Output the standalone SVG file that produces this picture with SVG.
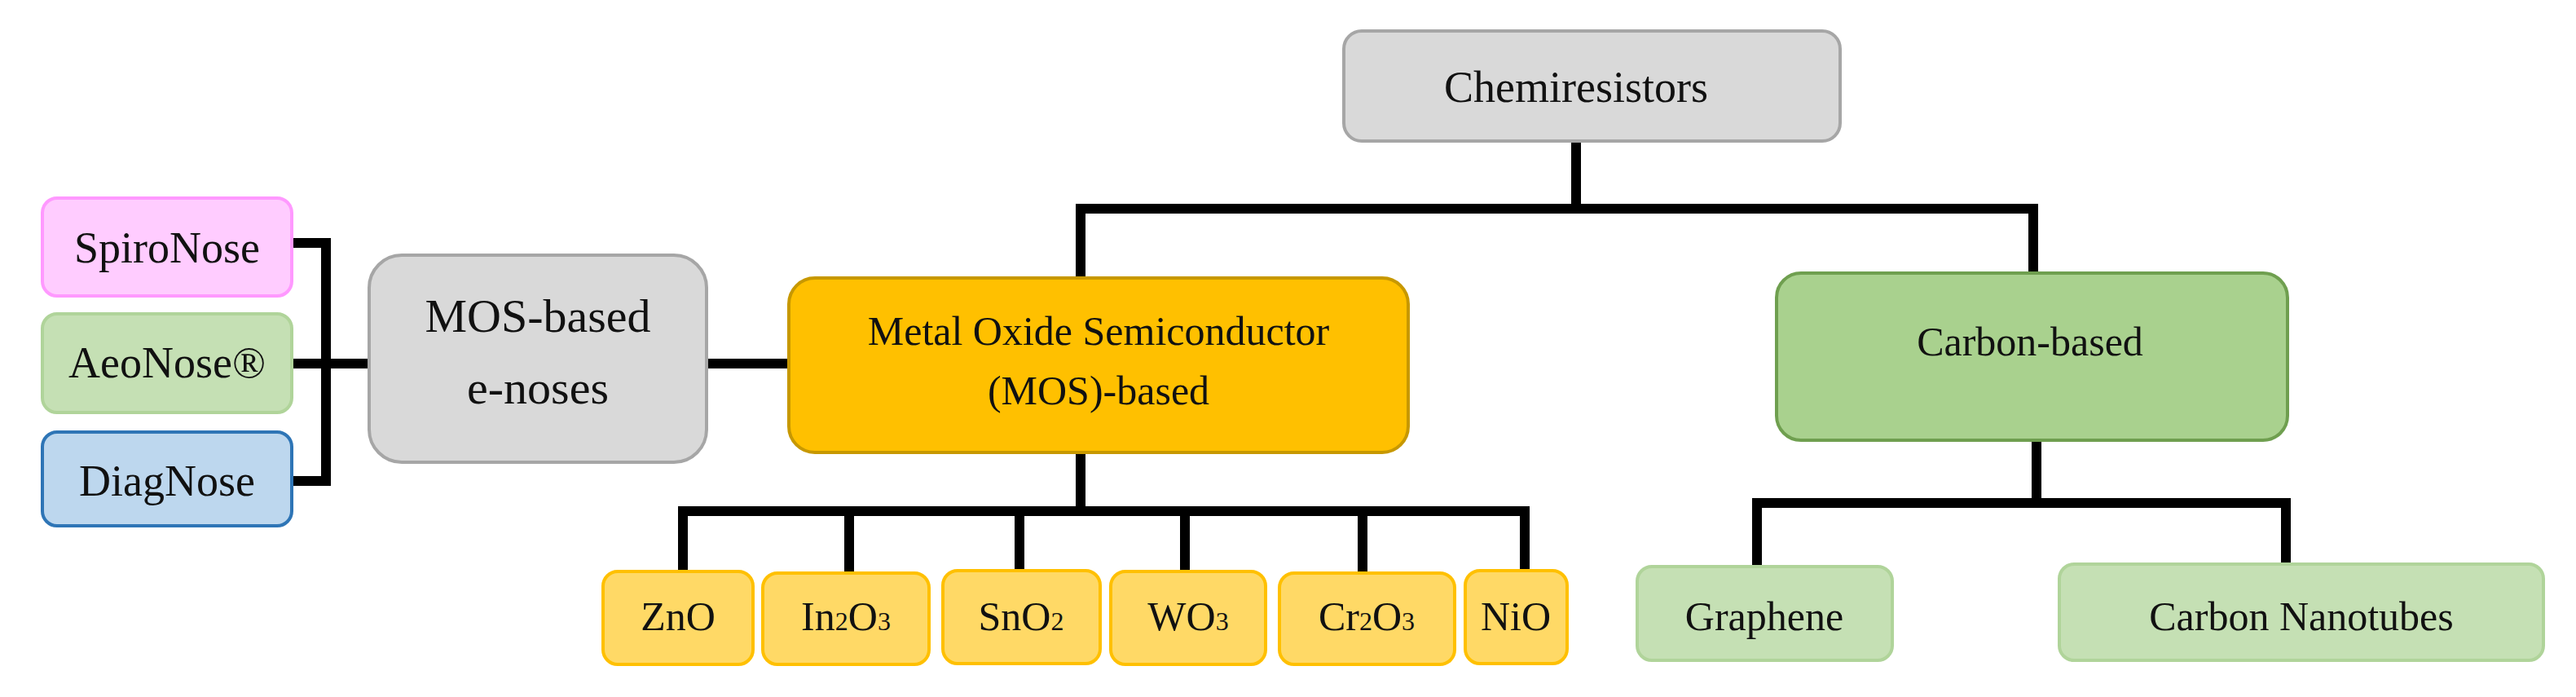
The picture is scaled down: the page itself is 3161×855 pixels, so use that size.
<svg xmlns="http://www.w3.org/2000/svg" width="3161" height="855" viewBox="0 0 3161 855">
<style>
text{font-family:"Liberation Serif","Times New Roman",serif;fill:#111;text-anchor:middle}
.gray{fill:#d9d9d9;stroke:#a6a6a6;stroke-width:4}
.mos{fill:#ffc000;stroke:#c79800;stroke-width:4}
.carb{fill:#a9d18e;stroke:#6f9f4f;stroke-width:4}
.lg{fill:#c5e0b4;stroke:#b0d49a;stroke-width:4}
.ly{fill:#ffd966;stroke:#ffc000;stroke-width:4}
.pink{fill:#ffccff;stroke:#ff99ff;stroke-width:4}
.blue{fill:#bdd7ee;stroke:#2e75b6;stroke-width:4}
.c{fill:none;stroke:#000;stroke-width:12;stroke-linecap:square}
.t52{font-size:54px}.t56{font-size:58px}.t50{font-size:50px}.t48{font-size:50px}
.sub{font-size:32px}
</style>
<g id="connectors">
<path class="c" d="M1934 173V256M1326 256H2495M1326 256V341M2495 256V335"/>
<path class="c" d="M1326 555V627M838 627H1871M838 627V701M1042 627V701M1251 627V701M1454 627V701M1672 627V701M1871 627V701"/>
<path class="c" d="M2499 540V617M2156 617H2805M2156 617V695M2805 617V692"/>
<path class="c" d="M867 446H968"/>
<path class="c" d="M360 298H400V590H360M360 446H453"/>
</g>
<g id="chemiresistors"><rect class="gray" x="1649" y="38" width="609" height="135" rx="22"/><text class="t52" x="1934" y="125">Chemiresistors</text></g>
<g id="mos"><rect class="mos" x="968" y="341" width="760" height="214" rx="32"/><text class="t50" x="1348" y="423">Metal Oxide Semiconductor</text><text class="t50" x="1348" y="496">(MOS)-based</text></g>
<g id="carbon"><rect class="carb" x="2180" y="335" width="627" height="205" rx="30"/><text class="t50" x="2491" y="436">Carbon-based</text></g>
<g id="enoses"><rect class="gray" x="453" y="313" width="414" height="254" rx="40"/><text class="t56" x="660" y="407">MOS-based</text><text class="t56" x="660" y="495">e-noses</text></g>
<g id="spironose"><rect class="pink" x="52" y="243" width="306" height="120" rx="18"/><text class="t52" x="205" y="322">SpiroNose</text></g>
<g id="aeonose"><rect class="lg" x="52" y="385" width="306" height="121" rx="18"/><text class="t52" x="205" y="463">AeoNose®</text></g>
<g id="diagnose"><rect class="blue" x="52" y="530" width="306" height="115" rx="18"/><text class="t52" x="205" y="608">DiagNose</text></g>
<g id="zno"><rect class="ly" x="740" y="701" width="184" height="114" rx="18"/><text class="t48" x="832" y="773">ZnO</text></g>
<g id="in2o3"><rect class="ly" x="936" y="703" width="204" height="112" rx="18"/><text class="t48" x="1038" y="773">In<tspan class="sub">2</tspan>O<tspan class="sub">3</tspan></text></g>
<g id="sno2"><rect class="ly" x="1157" y="700" width="193" height="114" rx="18"/><text class="t48" x="1253" y="773">SnO<tspan class="sub">2</tspan></text></g>
<g id="wo3"><rect class="ly" x="1363" y="701" width="190" height="114" rx="18"/><text class="t48" x="1458" y="773">WO<tspan class="sub">3</tspan></text></g>
<g id="cr2o3"><rect class="ly" x="1570" y="703" width="215" height="112" rx="18"/><text class="t48" x="1677" y="773">Cr<tspan class="sub">2</tspan>O<tspan class="sub">3</tspan></text></g>
<g id="nio"><rect class="ly" x="1798" y="700" width="125" height="114" rx="18"/><text class="t48" x="1860" y="773">NiO</text></g>
<g id="graphene"><rect class="lg" x="2009" y="695" width="313" height="115" rx="18"/><text class="t48" x="2165" y="773">Graphene</text></g>
<g id="cnt"><rect class="lg" x="2527" y="692" width="594" height="118" rx="18"/><text class="t48" x="2824" y="773">Carbon Nanotubes</text></g>
</svg>
